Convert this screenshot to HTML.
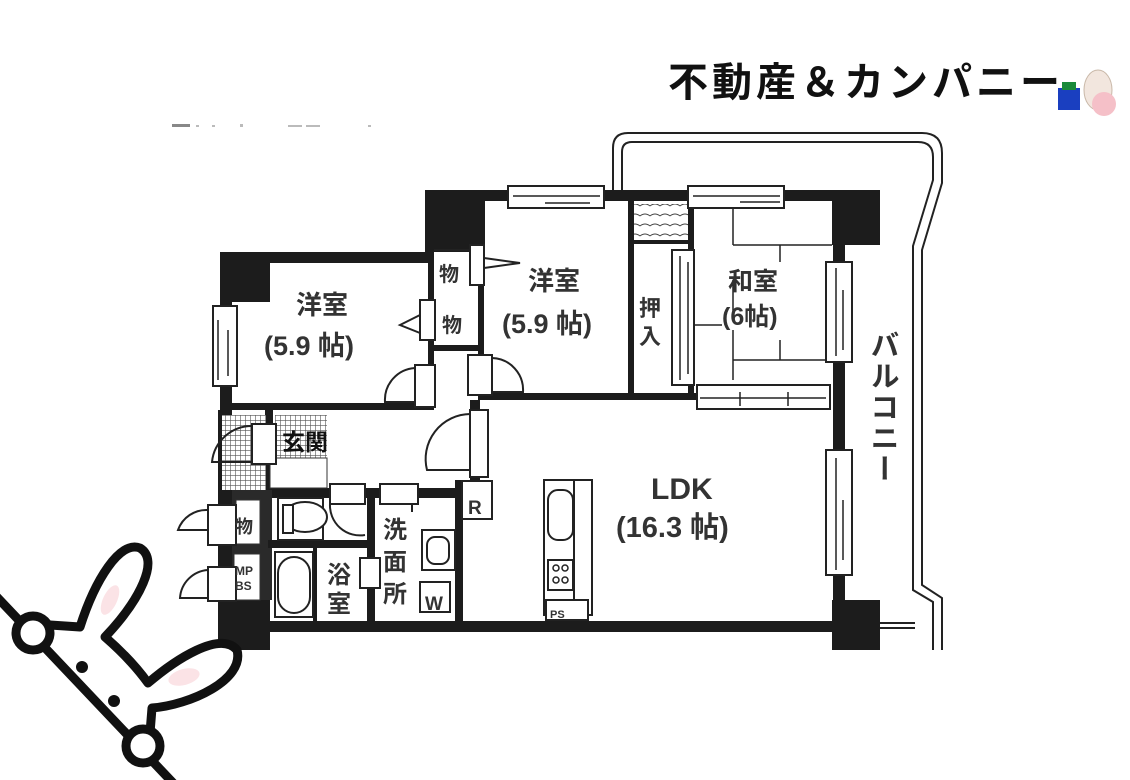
<!DOCTYPE html>
<html><head><meta charset="utf-8"><style>
html,body{margin:0;padding:0;background:#fff;}
svg{display:block;}
text{font-family:"Liberation Sans","Noto Sans CJK JP",sans-serif;font-weight:bold;fill:#333;}
</style></head><body>
<svg width="1130" height="780" viewBox="0 0 1130 780" xmlns="http://www.w3.org/2000/svg">
<rect width="1130" height="780" fill="#fff"/>
<!-- title -->
<text x="668" y="96" font-size="40" letter-spacing="4" style="fill:#111">不動産＆カンパニー</text>
<rect x="1058" y="88" width="22" height="22" fill="#1a3fc0"/>
<rect x="1062" y="82" width="14" height="8" fill="#1a8a3a"/>
<ellipse cx="1098" cy="90" rx="14" ry="20" fill="#f2e6de" stroke="#c9b8a8"/>
<ellipse cx="1104" cy="104" rx="12" ry="12" fill="#f5c0c8"/>
<!-- faint text -->
<rect x="172" y="124" width="18" height="3" fill="#888"/>
<g fill="#bbb"><rect x="196" y="125" width="3" height="2"/><rect x="212" y="125" width="3" height="2"/><rect x="240" y="124" width="3" height="3"/><rect x="288" y="125" width="14" height="2"/><rect x="306" y="125" width="14" height="2"/><rect x="368" y="125" width="3" height="2"/></g>

<!-- balcony -->
<g fill="none" stroke="#222" stroke-width="2">
<path d="M613,190 V148 Q613,133 628,133 H922 Q942,133 942,153 V183 L922,250 V585 L942,598 V650"/>
<path d="M622,190 V152 Q622,142 632,142 H918 Q933,142 933,157 V180 L913,246 V590 L933,602 V650"/>
<line x1="880" y1="623" x2="915" y2="623"/><line x1="880" y1="628" x2="915" y2="628"/>
</g>

<g fill="#1c1c1c">
<rect x="220" y="252" width="50" height="50"/>
<rect x="425" y="190" width="60" height="62"/>
<rect x="832" y="190" width="48" height="55"/>
<rect x="832" y="600" width="48" height="50"/>
<rect x="218" y="598" width="52" height="52"/>
<rect x="220" y="252" width="210" height="11"/>
<rect x="425" y="190" width="455" height="11"/>
<rect x="220" y="252" width="12" height="398"/>
<rect x="833" y="190" width="12" height="460"/>
<rect x="232" y="621" width="648" height="11"/>
<rect x="428" y="250" width="6" height="160"/>
<rect x="232" y="403" width="200" height="7"/>
<rect x="428" y="345" width="55" height="6"/>
<rect x="478" y="250" width="6" height="150"/>
<rect x="628" y="200" width="6" height="198"/>
<rect x="478" y="393" width="220" height="7"/>
<rect x="688" y="200" width="6" height="198"/>
<rect x="630" y="240" width="60" height="4"/>
<rect x="470" y="400" width="10" height="80"/>
<rect x="218" y="410" width="6" height="190"/>
<rect x="262" y="488" width="200" height="10"/>
<rect x="455" y="480" width="8" height="145"/>
<rect x="232" y="490" width="40" height="110" fill="#2a2a2a"/>
<rect x="268" y="540" width="105" height="8"/>
<rect x="367" y="488" width="8" height="135"/>
<rect x="313" y="548" width="4" height="75"/>
<rect x="265" y="410" width="8" height="80"/>
</g>
<defs><pattern id="h" width="5" height="5" patternUnits="userSpaceOnUse"><rect width="5" height="5" fill="#fff"/><path d="M0,0H5M0,0V5" stroke="#555" stroke-width="1.2"/></pattern>
<pattern id="w" width="10" height="10" patternUnits="userSpaceOnUse"><rect width="10" height="10" fill="#fff"/><path d="M0,6 Q5,2 10,6" stroke="#444" fill="none"/></pattern></defs>
<rect x="222" y="415" width="44" height="75" fill="url(#h)"/>
<rect x="275" y="415" width="52" height="43" fill="url(#h)"/>
<rect x="634" y="204" width="54" height="36" fill="url(#w)"/>
<rect x="236" y="500" width="24" height="44" fill="#fff" stroke="#333"/>
<rect x="234" y="554" width="26" height="46" fill="#fff" stroke="#333"/>
<rect x="270" y="458" width="57" height="30" fill="#fff" stroke="#333"/>

<g fill="#fff" stroke="#222" stroke-width="2">
<rect x="508" y="186" width="96" height="22"/>
<rect x="688" y="186" width="96" height="22"/>
<rect x="213" y="306" width="24" height="80"/>
<rect x="826" y="262" width="26" height="100"/>
<rect x="826" y="450" width="26" height="125"/>
<rect x="697" y="385" width="133" height="24"/>
<rect x="672" y="250" width="22" height="135"/>
</g>
<g stroke="#222" stroke-width="1.5" fill="none">
<path d="M513,196H600M545,203H590M693,196H780M740,202H780M218,320V380M228,330V376M836,268V356M843,290V350M836,458V570M843,500V560M700,398H826M740,392V406M788,392V406M680,256V380M688,262V374"/>
<path d="M733,208V245M733,245H832M780,245V262M733,280V318M733,330V380M733,360H826M780,340V360M694,325H722"/>
</g>

<g fill="none" stroke="#222" stroke-width="2">
<path d="M434,250H470M484,258 L520,263 L484,268"/>
<rect x="470" y="245" width="14" height="40" fill="#fff"/>
<rect x="420" y="300" width="15" height="40" fill="#fff"/>
<path d="M420,315 L400,325 L420,333"/>
<rect x="415" y="365" width="20" height="42" fill="#fff"/>
<path d="M415,368 A32,32 0 0 0 385,402 H415"/>
<rect x="468" y="355" width="24" height="40" fill="#fff"/>
<path d="M492,358 A32,32 0 0 1 523,392 H492"/>
<rect x="470" y="410" width="18" height="67" fill="#fff"/>
<path d="M470,414 A45,45 0 0 0 427,470 H470"/>
<rect x="252" y="424" width="24" height="40" fill="#fff"/>
<path d="M252,426 A40,40 0 0 0 212,462 H252"/>
<rect x="208" y="505" width="28" height="40" fill="#fff"/>
<path d="M208,510 A30,30 0 0 0 178,530 H208"/>
<rect x="208" y="567" width="28" height="34" fill="#fff"/>
<path d="M208,570 A30,30 0 0 0 180,598 H208"/>
<rect x="330" y="484" width="35" height="20" fill="#fff"/>
<path d="M330,504 A30,30 0 0 0 365,535"/>
<rect x="380" y="484" width="38" height="20" fill="#fff"/>
<path d="M412,504 V512"/>
<rect x="360" y="558" width="20" height="30" fill="#fff"/>
</g>

<g fill="#fff" stroke="#222" stroke-width="2">
<rect x="278" y="498" width="45" height="42"/>
<ellipse cx="305" cy="517" rx="22" ry="15"/>
<rect x="283" y="505" width="10" height="28"/>
<rect x="275" y="552" width="38" height="65"/>
<rect x="278" y="557" width="32" height="56" rx="16"/>
<rect x="422" y="530" width="33" height="40"/>
<rect x="427" y="537" width="22" height="27" rx="8"/>
<rect x="420" y="582" width="30" height="30"/>
<rect x="462" y="481" width="30" height="38"/>
<rect x="544" y="480" width="30" height="135"/>
<rect x="548" y="490" width="25" height="50" rx="10"/>
<rect x="548" y="560" width="25" height="30"/>
<rect x="574" y="480" width="18" height="135"/>
<rect x="546" y="600" width="42" height="20"/>
</g>
<g fill="none" stroke="#222" stroke-width="1.5"><circle cx="556" cy="568" r="3"/><circle cx="565" cy="568" r="3"/><circle cx="556" cy="580" r="3"/><circle cx="565" cy="580" r="3"/></g>

<text x="296" y="314" font-size="26">洋室</text>
<text x="264" y="355" font-size="27">(5.9 帖)</text>
<text x="528" y="290" font-size="26">洋室</text>
<text x="502" y="333" font-size="27">(5.9 帖)</text>
<text x="728" y="290" font-size="25">和室</text>
<text x="722" y="325" font-size="25">(6帖)</text>
<text x="639" y="316" font-size="22">押</text>
<text x="639" y="344" font-size="22">入</text>
<text x="439" y="281" font-size="20">物</text>
<text x="442" y="332" font-size="20">物</text>
<text x="282" y="450" font-size="23" style="fill:#111">玄関</text>
<text x="235" y="533" font-size="18">物</text>
<text x="235" y="575" font-size="12">MP</text>
<text x="235" y="590" font-size="12">BS</text>
<text x="327" y="583" font-size="24">浴</text>
<text x="327" y="612" font-size="24">室</text>
<text x="383" y="538" font-size="24">洗</text>
<text x="383" y="570" font-size="24">面</text>
<text x="383" y="602" font-size="24">所</text>
<text x="425" y="610" font-size="19">W</text>
<text x="468" y="514" font-size="19">R</text>
<text x="550" y="618" font-size="11">PS</text>
<text x="651" y="499" font-size="30">LDK</text>
<text x="616" y="537" font-size="29">(16.3 帖)</text>
<text x="882" y="330" font-size="29" writing-mode="tb" letter-spacing="2">バルコニー</text>

<g stroke="#111" stroke-width="9" fill="#fff" stroke-linecap="round" stroke-linejoin="round">
<line x1="-5" y1="595" x2="175" y2="785"/>
<path d="M50,625 L80,627 C95,580 120,540 140,548 C160,560 140,600 105,637 C120,650 135,665 148,683 C175,660 220,630 237,650 C245,680 190,705 152,708 L150,733" fill="#fff"/>
<circle cx="33" cy="633" r="17"/>
<circle cx="143" cy="746" r="17"/>
</g>
<ellipse cx="110" cy="600" rx="7" ry="16" fill="#fbe3e6" transform="rotate(25 110 600)"/>
<ellipse cx="184" cy="677" rx="16" ry="8" fill="#fbe3e6" transform="rotate(-15 184 677)"/>
<circle cx="82" cy="667" r="6" fill="#111"/><circle cx="114" cy="701" r="6" fill="#111"/>
</svg>
</body></html>
